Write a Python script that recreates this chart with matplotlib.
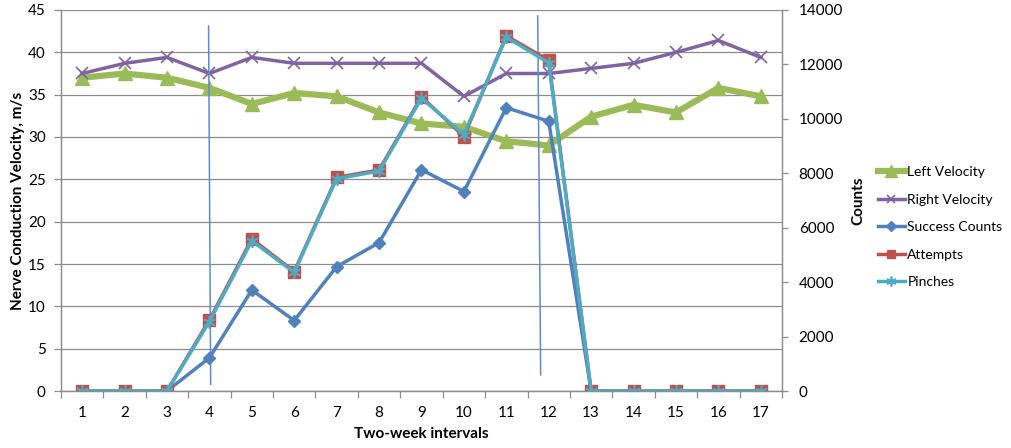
import matplotlib.pyplot as plt
import numpy as np

plt.rcParams['font.family'] = ['Lato', 'DejaVu Sans']

intervals = np.arange(1, 18)

# nerve conduction velocity, m/s
left_vel = [37.0, 37.5, 37.0, 35.8, 33.9, 35.2, 34.8, 32.9, 31.6, 31.2,
            29.5, 29.0, 32.4, 33.8, 32.9, 35.8, 34.8]
right_vel = [37.5, 38.7, 39.4, 37.5, 39.4, 38.7, 38.7, 38.7, 38.7, 34.8,
             37.5, 37.5, 38.1, 38.7, 40.0, 41.4, 39.4]

# counts
success = [0, 0, 0, 1220, 3710, 2590, 4570, 5450, 8130, 7330,
           10410, 9910, 0, 0, 0, 0, 0]
attempts = [0, 0, 0, 2610, 5590, 4390, 7850, 8120, 10810, 9350,
            13050, 12150, 0, 0, 0, 0, 0]
pinches = [0, 0, 0, 2550, 5520, 4360, 7800, 8080, 10760, 9420,
           13000, 12060, 0, 0, 0, 0, 0]

# hand-drawn marker lines: (x_top, y_top, x_bottom, y_bottom) on velocity axis
marks = [(3.98, 43.1, 4.03, 0.8), (11.74, 44.3, 11.81, 1.9)]

GREEN = '#9BBB59'
PURPLE = '#8064A2'
BLUE = '#4F81BD'
RED = '#C0504D'
CYAN = '#4BACC6'
GRID = '#8C8C8C'
FS = 11

fig = plt.figure(figsize=(10.11, 4.48), dpi=100)
ax = fig.add_axes([0.0603, 0.1272, 0.7132, 0.8505])
ax2 = ax.twinx()

l1, = ax.plot(intervals, left_vel, color=GREEN, lw=4.5, marker='^', ms=10,
              label='Left Velocity')
l2, = ax.plot(intervals, right_vel, color=PURPLE, lw=2.5, marker='x', ms=8,
              mew=1.2, label='Right Velocity')
for xt, yt, xb, yb in marks:
    ax.plot([xt, xb], [yt, yb], color='#5B8CCB', lw=1.1)

l3, = ax2.plot(intervals, success, color=BLUE, lw=2.5, marker='D', ms=6,
               label='Success Counts')
l4, = ax2.plot(intervals, attempts, color=RED, lw=2.5, marker='s', ms=8,
               label='Attempts')
l5, = ax2.plot(intervals, pinches, color=CYAN, lw=2.5, marker=(6, 2, 0), ms=9,
               mew=1.2, label='Pinches')

ax.set_xlim(0.5, 17.5)
ax.set_ylim(0, 45)
ax.set_yticks(np.arange(0, 46, 5))
ax2.set_ylim(0, 14000)
ax2.set_yticks(np.arange(0, 14001, 2000))

ax.set_xticks(intervals)
ax.set_xticks(np.arange(0.5, 17.6, 1), minor=True)
ax.tick_params(axis='x', which='major', length=0, pad=11, labelsize=FS)
ax.tick_params(axis='x', which='minor', length=5, color=GRID, width=0.9)
ax.tick_params(axis='y', length=5, color=GRID, width=0.9, labelsize=FS, pad=6)
ax2.tick_params(axis='y', length=4, color=GRID, width=0.9, labelsize=FS, pad=8)

ax.yaxis.grid(True, color=GRID, lw=0.9)
ax.set_axisbelow(True)

for a in (ax, ax2):
    a.spines['top'].set_visible(False)
    for s in ('left', 'right', 'bottom'):
        a.spines[s].set_color(GRID)
        a.spines[s].set_linewidth(0.9)

ax.set_xlabel('Two-week intervals', fontsize=FS, fontweight='bold', labelpad=5)
ax.set_ylabel('Nerve Conduction Velocity, m/s', fontsize=FS,
              fontweight='bold', labelpad=2)
ax2.set_ylabel('Counts', fontsize=FS, fontweight='bold', labelpad=6)

fig.legend(handles=[l1, l2, l3, l4, l5], loc='center left',
           bbox_to_anchor=(0.868, 0.493), frameon=False, fontsize=10,
           handlelength=2.0, handletextpad=0.15, labelspacing=1.12,
           markerscale=0.8, borderaxespad=0, borderpad=0)

fig.savefig('out.png', dpi=100)
